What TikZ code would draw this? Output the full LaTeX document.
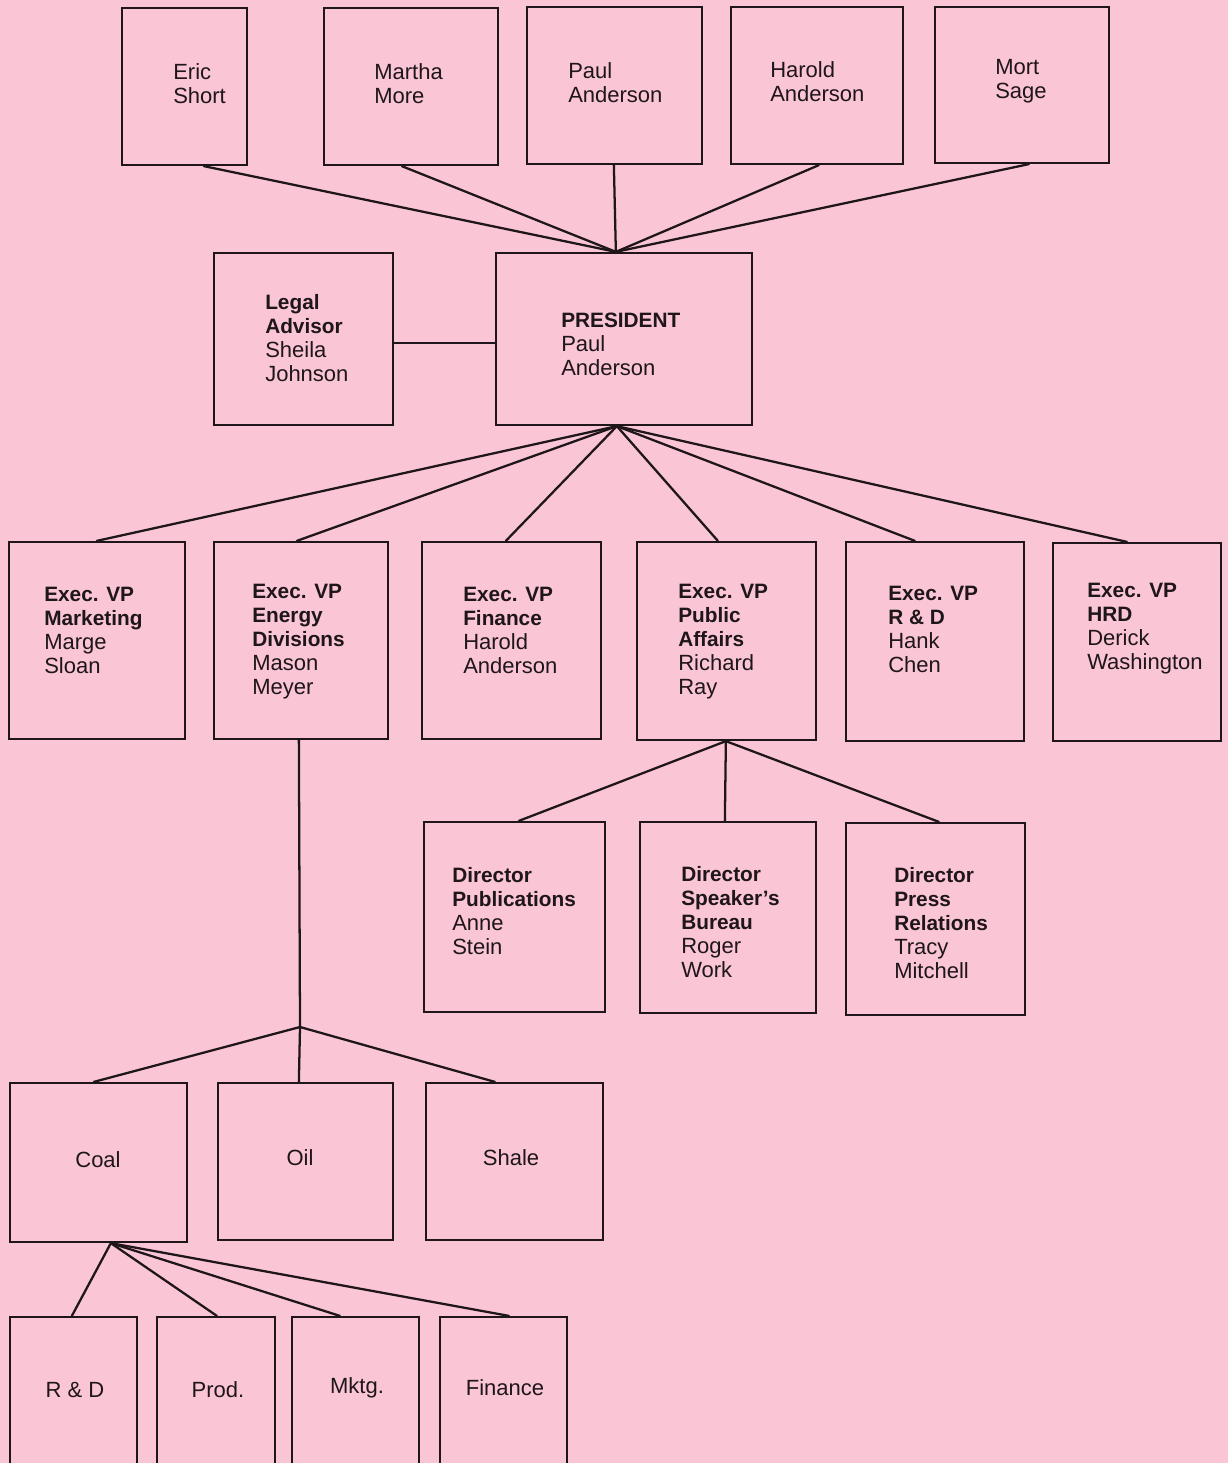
\documentclass[tikz,border=0pt]{standalone}
\usepackage{fontspec}
\setmainfont{Liberation Sans}
\usetikzlibrary{calc,fit}
\definecolor{bg}{RGB}{250,197,212}
\definecolor{ink}{RGB}{30,22,26}
\newcommand{\bh}[1]{{\fontsize{15.6}{18}\selectfont\bfseries #1}}
\begin{document}
\begin{tikzpicture}[x=0.75pt,y=-0.75pt,
  box/.style={draw=ink, line width=1.7pt, inner sep=0pt},
  txt/.style={font=\fontsize{16.5}{18}\selectfont, align=left, inner sep=0pt, text=ink, anchor=west},
  ctxt/.style={font=\fontsize{16.5}{18}\selectfont, inner sep=0pt, text=ink},
  conn/.style={draw=ink, line width=1.7pt, line cap=round}]
\fill[bg] (0,0) rectangle (1228,1463);
\useasboundingbox (0,0) rectangle (1228,1463);
\clip (0,0) rectangle (1228,1463);
% boxes
\node[box, fit={(122,8) (247,165)}] (t1) {};
\node[box, fit={(324,8) (498,165)}] (t2) {};
\node[box, fit={(527,7) (702,164)}] (t3) {};
\node[box, fit={(731,7) (903,164)}] (t4) {};
\node[box, fit={(935,7) (1109,163)}] (t5) {};
\node[box, fit={(214,253) (393,425)}] (legal) {};
\node[box, fit={(496,253) (752,425)}] (pres) {};
\node[box, fit={(9,542) (185,739)}] (v1) {};
\node[box, fit={(214,542) (388,739)}] (v2) {};
\node[box, fit={(422,542) (601,739)}] (v3) {};
\node[box, fit={(637,542) (816,740)}] (v4) {};
\node[box, fit={(846,542) (1024,741)}] (v5) {};
\node[box, fit={(1053,543) (1221,741)}] (v6) {};
\node[box, fit={(424,822) (605,1012)}] (d1) {};
\node[box, fit={(640,822) (816,1013)}] (d2) {};
\node[box, fit={(846,823) (1025,1015)}] (d3) {};
\node[box, fit={(10,1083) (187,1242)}] (c1) {};
\node[box, fit={(218,1083) (393,1240)}] (c2) {};
\node[box, fit={(426,1083) (603,1240)}] (c3) {};
\node[box, fit={(10,1317) (137,1490)}] (b1) {};
\node[box, fit={(157,1317) (275,1490)}] (b2) {};
\node[box, fit={(292,1317) (419,1490)}] (b3) {};
\node[box, fit={(440,1317) (567,1490)}] (b4) {};
% texts
\node[txt] (t1l) at (173,84) {Eric\\Short};
\node[txt] (t2l) at (374,84) {Martha\\More};
\node[txt] (t3l) at (568,83) {Paul\\Anderson};
\node[txt] (t4l) at (770,82) {Harold\\Anderson};
\node[txt] (t5l) at (995,81) {Mort\\Sage};
\node[txt] (legall) at (265,338) {\bh{Legal}\\\bh{Advisor}\\Sheila\\Johnson};
\node[txt] (presl) at (561,344) {\bh{PRESIDENT}\\Paul\\Anderson};
\node[txt] (v1l) at (44,630) {\bh{Exec. VP}\\\bh{Marketing}\\Marge\\Sloan};
\node[txt] (v2l) at (252,642) {\bh{Exec. VP}\\\bh{Energy}\\\bh{Divisions}\\Mason\\Meyer};
\node[txt] (v3l) at (463,630) {\bh{Exec. VP}\\\bh{Finance}\\Harold\\Anderson};
\node[txt] (v4l) at (678,642) {\bh{Exec. VP}\\\bh{Public}\\\bh{Affairs}\\Richard\\Ray};
\node[txt] (v5l) at (888,629) {\bh{Exec. VP}\\\bh{R \& D}\\Hank\\Chen};
\node[txt] (v6l) at (1087,629) {\bh{Exec. VP}\\\bh{HRD}\\Derick\\Washington};
\node[txt] (d1l) at (452,911) {\bh{Director}\\\bh{Publications}\\Anne\\Stein};
\node[txt] (d2l) at (681,922) {\bh{Director}\\\bh{Speaker's}\\\bh{Bureau}\\Roger\\Work};
\node[txt] (d3l) at (894,923) {\bh{Director}\\\bh{Press}\\\bh{Relations}\\Tracy\\Mitchell};
\node[ctxt] (c1l) at (98,1160) {Coal};
\node[ctxt] (c2l) at (300,1158) {Oil};
\node[ctxt] (c3l) at (511,1158) {Shale};
\node[ctxt] (b1l) at (75,1390) {R \& D};
\node[ctxt] (b2l) at (218,1390) {Prod.};
\node[ctxt] (b3l) at (357,1388) {Mktg.};
\node[ctxt] (b4l) at (505,1388) {Finance};
% junctions
\coordinate (ptop) at ($(pres.north west)+(121,0)$);
\coordinate (pbot) at ($(pres.south west)+(122,0)$);
\coordinate (pabot) at ($(v4.south west)+(90,0)$);
\coordinate (ebot) at ($(v2.south west)+(86,0)$);
\coordinate (ej) at (300,1027);
\coordinate (cbot) at ($(c1.south west)+(102,0)$);
% connectors
\draw[conn] ($(t1.south west)+(83,0)$) -- (ptop);
\draw[conn] ($(t2.south west)+(79,0)$) -- (ptop);
\draw[conn] ($(t3.south west)+(88,0)$) -- (ptop);
\draw[conn] ($(t4.south west)+(89,0)$) -- (ptop);
\draw[conn] ($(t5.south west)+(95,0)$) -- (ptop);
\draw[conn] ([yshift=-3pt]legal.east) -- ([yshift=-3pt]legal.east -| pres.west);
\draw[conn] (pbot) -- ($(v1.north west)+(89,0)$);
\draw[conn] (pbot) -- ($(v2.north west)+(84,0)$);
\draw[conn] (pbot) -- ($(v3.north west)+(85,0)$);
\draw[conn] (pbot) -- ($(v4.north west)+(82,0)$);
\draw[conn] (pbot) -- ($(v5.north west)+(70,0)$);
\draw[conn] (pbot) -- ($(v6.north west)+(75,0)$);
\draw[conn] (pabot) -- ($(d1.north west)+(96,0)$);
\draw[conn] (pabot) -- ($(d2.north west)+(86,0)$);
\draw[conn] (pabot) -- ($(d3.north west)+(94,0)$);
\draw[conn] (ebot) -- (ej);
\draw[conn] (ej) -- ($(c1.north west)+(85,0)$);
\draw[conn] (ej) -- ($(c2.north west)+(82,0)$);
\draw[conn] (ej) -- ($(c3.north west)+(70,0)$);
\draw[conn] (cbot) -- ($(b1.north west)+(63,0)$);
\draw[conn] (cbot) -- ($(b2.north west)+(61,0)$);
\draw[conn] (cbot) -- ($(b3.north west)+(49,0)$);
\draw[conn] (cbot) -- ($(b4.north west)+(70,0)$);
\end{tikzpicture}
\end{document}
